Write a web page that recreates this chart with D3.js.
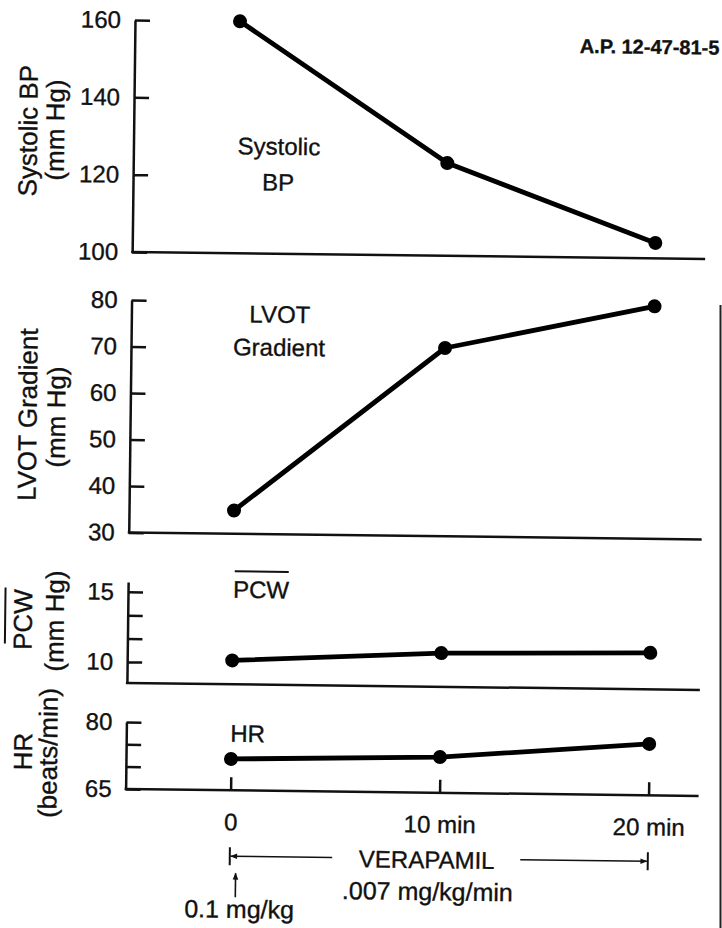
<!DOCTYPE html>
<html><head><meta charset="utf-8">
<script src="https://cdn.jsdelivr.net/npm/d3@7"></script>
<style>
body{margin:0;background:#fff}
svg{display:block}
text{font-family:"Liberation Sans",Arial,Helvetica,sans-serif;fill:#111;stroke:#111;stroke-width:0.35px}
</style>
</head><body>
<svg id="c" width="722" height="928"></svg>
<script>
// ---- data ----
const times = [0, 10, 20];
const xTickLabels = ["0", "10 min", "20 min"];
const systolicBP = [160, 124, 104];
const lvotGradient = [35, 70.5, 80];
const pcwMean = [10.2, 10.9, 11.1];
const heartRate = [72, 73, 76.5];
const sysTicks = [100, 120, 140, 160];
const sysTickLabels = ["100", "120", "140", "160"];
const lvotTicks = [30, 40, 50, 60, 70, 80];
const lvotTickLabels = ["30", "40", "50", "60", "70", "80"];
const pcwTicks = [10, 11.67, 13.33, 15];
const pcwTickLabels = ["10", "", "", "15"];
const hrTicks = [65, 70, 75, 80];
const hrTickLabels = ["65", "", "", "80"];

// ---- layout ----
const AX = 135, XEND = 708;
const svg = d3.select("#c");
const defs = svg.append("defs");
defs.append("marker").attr("id","ah").attr("viewBox","0 0 10 10").attr("refX",9).attr("refY",5)
  .attr("markerWidth",9).attr("markerHeight",7).attr("markerUnits","userSpaceOnUse").attr("orient","auto-start-reverse")
  .append("path").attr("d","M0,1 L10,5 L0,9 Z").attr("fill","#111");

// slight tilt of the scanned page
const g = svg.append("g").attr("transform","rotate(0.7,135,20)");
const x = d3.scaleLinear().domain([0, 20]).range([240, 658]);

const panels = [
  {values: systolicBP, domain:[100,160], range:[252,20], ticks: sysTicks, labels: sysTickLabels,
   titles:[["Systolic BP",38.5,132],["(mm Hg)",65.5,131]],
   inner:[["Systolic",280.5,153,"middle"],["BP",280,189,"middle"]]},
  {values: lvotGradient, domain:[30,80], range:[532.5,300], ticks: lvotTicks, labels: lvotTickLabels,
   titles:[["LVOT Gradient",41.5,416],["(mm Hg)",70,418]],
   inner:[["LVOT",283.5,321,"middle"],["Gradient",283,354,"middle"]]},
  {values: pcwMean, domain:[8.5,15.7], range:[683,582], ticks: pcwTicks, labels: pcwTickLabels,
   titles:[["PCW",39.3,621],["(mm Hg)",71,622]], titleBar:[12.5,589,645],
   inner:[["PCW",240,596.5,"start"]], innerBar:[241.5,295.5,570]},
  {values: heartRate, domain:[65,80], range:[789,722], ticks: hrTicks, labels: hrTickLabels,
   titles:[["HR",41,753],["(beats/min)",66,754]],
   inner:[["HR",239,740.5,"start"]], xAxis:true}
];

panels.forEach(p => {
  const y = d3.scaleLinear().domain(p.domain).range(p.range);
  const pg = g.append("g");
  // y axis (ticks point inward)
  const ya = pg.append("g").attr("transform",`translate(${AX},0)`)
    .call(d3.axisLeft(y).tickValues(p.ticks).tickSize(-15).tickSizeOuter(0).tickPadding(14)
      .tickFormat((d,i)=>p.labels[i]));
  ya.selectAll("path,line").attr("stroke","#111").attr("stroke-width",2.5);
  ya.selectAll("text").attr("font-size",24).attr("fill","#111")
    .attr("font-family",'"Liberation Sans",Arial,sans-serif');
  // x baseline
  pg.append("line").attr("x1",AX-1).attr("x2",XEND).attr("y1",p.range[0]).attr("y2",p.range[0])
    .attr("stroke","#111").attr("stroke-width",2.5);
  if (p.xAxis) {
    const xa = pg.append("g").attr("transform",`translate(0,${p.range[0]})`)
      .call(d3.axisBottom(x).tickValues(times).tickSize(-13).tickSizeOuter(0).tickPadding(23)
        .tickFormat((d,i)=>xTickLabels[i]));
    xa.select(".domain").remove();
    xa.selectAll("line").attr("stroke","#111").attr("stroke-width",2.5);
    xa.selectAll("text").attr("font-size",24).attr("fill","#111")
      .attr("font-family",'"Liberation Sans",Arial,sans-serif');
  }
  // titles (rotated)
  p.titles.forEach(t => {
    pg.append("text").attr("transform",`translate(${t[1]},${t[2]}) rotate(-90)`)
      .attr("text-anchor","middle").attr("font-size",26).text(t[0]);
  });
  if (p.titleBar) {
    pg.append("line").attr("x1",p.titleBar[0]).attr("x2",p.titleBar[0])
      .attr("y1",p.titleBar[1]).attr("y2",p.titleBar[2]).attr("stroke","#111").attr("stroke-width",2);
  }
  p.inner.forEach(t => {
    pg.append("text").attr("x",t[1]).attr("y",t[2]).attr("text-anchor",t[3])
      .attr("font-size",24).text(t[0]);
  });
  if (p.innerBar) {
    pg.append("line").attr("x1",p.innerBar[0]).attr("x2",p.innerBar[1])
      .attr("y1",p.innerBar[2]).attr("y2",p.innerBar[2]).attr("stroke","#111").attr("stroke-width",2);
  }
  // data line + markers
  const line = d3.line().x((d,i)=>x(times[i])).y(d=>y(d));
  pg.append("path").datum(p.values).attr("d",line).attr("fill","none")
    .attr("stroke","#000").attr("stroke-width",4.8).attr("stroke-linejoin","round");
  pg.selectAll("circle.pt").data(p.values).enter().append("circle").attr("class","pt")
    .attr("cx",(d,i)=>x(times[i])).attr("cy",d=>y(d)).attr("r",7).attr("fill","#000");
});

// ID label top right
g.append("text").attr("x",580).attr("y",47.5).attr("font-size",20).attr("font-weight","bold").text("A.P. 12-47-81-5");

// infusion bracket
const by = 855;
const ann = g.append("g").attr("stroke","#111");
ann.append("line").attr("x1",x(0)).attr("x2",x(0)).attr("y1",by-9).attr("y2",by+9).attr("stroke-width",2);
ann.append("line").attr("x1",x(20)).attr("x2",x(20)).attr("y1",by-9).attr("y2",by+9).attr("stroke-width",2);
ann.append("line").attr("x1",x(4.9)).attr("x2",x(0)+1).attr("y1",by).attr("y2",by)
  .attr("stroke-width",1.6).attr("marker-end","url(#ah)");
ann.append("line").attr("x1",x(13.9)).attr("x2",x(20)-1).attr("y1",by).attr("y2",by)
  .attr("stroke-width",1.6).attr("marker-end","url(#ah)");
// bolus arrow
ann.append("line").attr("x1",x(0)+6).attr("x2",x(0)+6).attr("y1",896).attr("y2",872)
  .attr("stroke-width",1.6).attr("marker-end","url(#ah)");
g.append("text").attr("x",437).attr("y",864.5).attr("text-anchor","middle").attr("font-size",24).text("VERAPAMIL");
g.append("text").attr("x",438).attr("y",896.5).attr("text-anchor","middle").attr("font-size",25).text(".007 mg/kg/min");
g.append("text").attr("x",250).attr("y",916.5).attr("text-anchor","middle").attr("font-size",25).text("0.1 mg/kg");

// scan edge line at right
svg.append("line").attr("x1",720.5).attr("x2",720.5).attr("y1",305).attr("y2",928)
  .attr("stroke","#222").attr("stroke-width",2);
</script>
</body></html>
